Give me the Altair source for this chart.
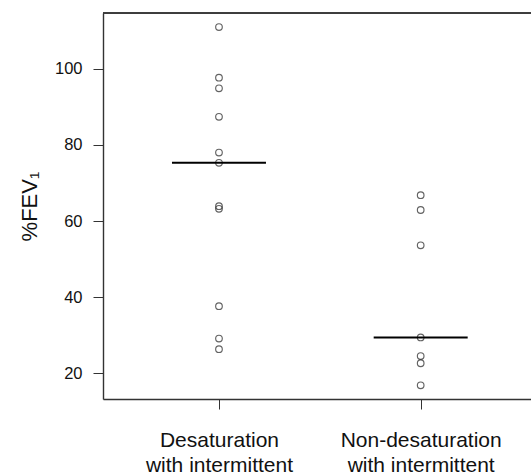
import altair as alt
import pandas as pd
import numpy as np

# Data
group_labels = [
    ["Desaturation", "with intermittent"],
    ["Non-desaturation", "with intermittent"],
]
desat_values = [111.0, 97.7, 94.9, 87.4, 78.0, 75.3, 63.9, 63.2, 37.6, 29.1, 26.3]
nondesat_values = [66.8, 62.9, 53.6, 29.4, 24.5, 22.6, 16.8]
y_ticks = [20, 40, 60, 80, 100]

pts = pd.DataFrame(
    {
        "group": [1] * len(desat_values) + [2] * len(nondesat_values),
        "fev": desat_values + nondesat_values,
    }
)
half = 0.233
med = pd.DataFrame(
    {
        "group": [1, 2],
        "median": [float(np.median(desat_values)), float(np.median(nondesat_values))],
    }
)
med["x1"] = med["group"] - half
med["x2"] = med["group"] + half

FONT = "Liberation Sans"
W, H = 428, 386
FRAME = "#333333"
xscale = alt.Scale(domain=[0.425, 0.425 + W / 201.7], nice=False, zero=False)
yscale = alt.Scale(domain=[13.2, 114.7], nice=False, zero=False)

label_expr = (
    "datum.value == 1 ? " + str(group_labels[0]) + " : " + str(group_labels[1])
)

points = alt.Chart(pts).mark_point(
    shape="circle", filled=False, size=44, stroke="#222222", strokeWidth=1.15
).encode(
    x=alt.X(
        "group:Q",
        scale=xscale,
        axis=alt.Axis(
            values=[1, 2],
            labelExpr=label_expr,
            title=None,
            grid=False,
            domain=True,
            domainColor=FRAME,
            domainWidth=1.4,
            tickSize=10,
            tickColor=FRAME,
            labelFont=FONT,
            labelFontSize=21,
            labelColor="#111111",
            labelPadding=20,
            labelLineHeight=25,
            labelBaseline="top",
        ),
    ),
    y=alt.Y(
        "fev:Q",
        scale=yscale,
        axis=alt.Axis(
            values=y_ticks,
            title="%FEV₁",
            titleFont=FONT,
            titleFontSize=22,
            titleFontWeight="normal",
            titleColor="#111111",
            titleAngle=-90,
            titleX=-74,
            titleY=193,
            titleAlign="center",
            titleBaseline="middle",
            grid=False,
            domain=True,
            domainColor=FRAME,
            domainWidth=1.4,
            tickSize=10,
            tickColor=FRAME,
            labelFont=FONT,
            labelFontSize=16.5,
            labelColor="#111111",
            labelPadding=11,
        ),
    ),
)

lines = alt.Chart(med).mark_rule(color="black", strokeWidth=2).encode(
    x=alt.X("x1:Q", scale=xscale),
    x2="x2:Q",
    y=alt.Y("median:Q", scale=yscale),
)

top_border = alt.Chart(med).mark_rule(color=FRAME, strokeWidth=1.4).encode(
    x=alt.value(0), x2=alt.value(W), y=alt.value(0)
)

chart = (
    alt.layer(points, lines, top_border)
    .properties(
        width=W,
        height=H,
        padding={"left": 103, "top": 13, "right": 0, "bottom": 75},
        autosize=alt.AutoSizeParams(type="none"),
    )
    .configure_view(stroke=None)
    .configure(background="white")
)

chart.save("out.html", embed_options={"renderer": "svg", "actions": False})
